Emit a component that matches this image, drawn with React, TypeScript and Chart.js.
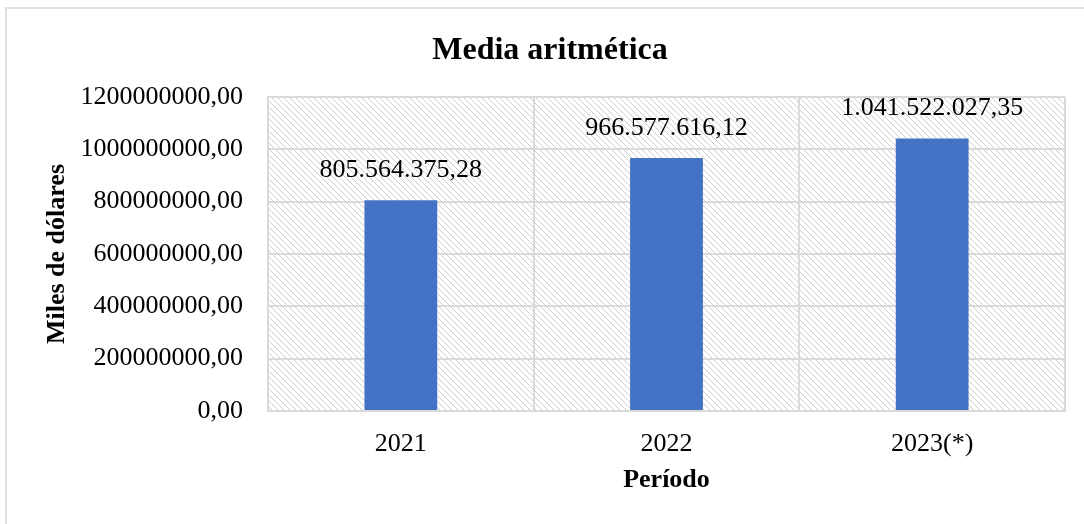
import React, { useEffect, useRef } from "react";
import { Chart, registerables } from "chart.js";

Chart.register(...registerables);

const categories = ["2021", "2022", "2023(*)"];
const values = [805564375.28, 966577616.12, 1041522027.35];
const yTicks = [0, 200000000, 400000000, 600000000, 800000000, 1000000000, 1200000000];

const FONT = "'Liberation Serif', 'Times New Roman', serif";

function fmtEs(v: number): string {
  const [i, d] = v.toFixed(2).split(".");
  return i.replace(/\B(?=(\d{3})+(?!\d))/g, ".") + "," + d;
}

function makePattern(ctx: CanvasRenderingContext2D) {
  const n = 6;
  const c = document.createElement("canvas");
  c.width = n;
  c.height = n;
  const g = c.getContext("2d")!;
  g.fillStyle = "#ffffff";
  g.fillRect(0, 0, n, n);
  g.fillStyle = "#cdcdcd";
  for (let y = 0; y < n; y++) {
    for (let x = 0; x < n; x++) {
      const k = (((x - y) % n) + n) % n;
      if (k <= 1 && (x + y) % 2 === 0) g.fillRect(x, y, 1, 1);
    }
  }
  return ctx.createPattern(c, "repeat");
}

export default function App() {
  const ref = useRef<HTMLCanvasElement>(null);
  useEffect(() => {
    const canvas = ref.current!;
    const bgPlugin = {
      id: "bgPattern",
      beforeDraw(chart: any) {
        const { ctx, chartArea } = chart;
        const p = makePattern(ctx);
        ctx.save();
        ctx.fillStyle = p || "#eee";
        ctx.fillRect(chartArea.left, chartArea.top, chartArea.right - chartArea.left, chartArea.bottom - chartArea.top);
        ctx.restore();
      },
    };
    const labelPlugin = {
      id: "valueLabels",
      afterDatasetsDraw(chart: any) {
        const { ctx } = chart;
        const meta = chart.getDatasetMeta(0);
        ctx.save();
        ctx.font = `26px ${FONT}`;
        ctx.fillStyle = "#000";
        ctx.textAlign = "center";
        ctx.textBaseline = "alphabetic";
        meta.data.forEach((bar: any, i: number) => {
          ctx.fillText(fmtEs(values[i]), bar.x, bar.y - 23);
        });
        ctx.restore();
      },
    };
    const chart = new Chart(canvas, {
      type: "bar",
      data: {
        labels: categories,
        datasets: [
          {
            data: values,
            backgroundColor: "#4472C4",
            borderWidth: 0,
            categoryPercentage: 1,
            barPercentage: 0.274,
          },
        ],
      },
      options: {
        animation: false,
        responsive: false,
        devicePixelRatio: 1,
        layout: { padding: { left: 35, right: 35, top: 0, bottom: 0 } },
        plugins: {
          legend: { display: false },
          tooltip: { enabled: false },
          title: {
            display: true,
            text: "Media aritmética",
            color: "#000",
            font: { family: FONT, size: 32, weight: "bold" },
            padding: { top: 32, bottom: 26.6 },
          },
        },
        scales: {
          x: {
            grid: { color: "#d9d9d9", lineWidth: 2, drawTicks: false, offset: true },
            border: { display: true, color: "#d9d9d9", width: 2 },
            ticks: { color: "#000", font: { family: FONT, size: 26 }, padding: 18 },
            title: {
              display: true,
              text: "Período",
              color: "#000",
              font: { family: FONT, size: 26, weight: "bold" },
              padding: { top: 0, bottom: 28.4 },
            },
            afterFit(scale: any) {
              scale.height = 113;
            },
          },
          y: {
            min: 0,
            max: 1200000000,
            afterBuildTicks(scale: any) {
              scale.ticks = yTicks.map((v) => ({ value: v }));
            },
            grid: { color: "#d9d9d9", lineWidth: 2, drawTicks: false },
            border: { display: true, color: "#d9d9d9", width: 2 },
            ticks: {
              color: "#000",
              font: { family: FONT, size: 26 },
              padding: 25,
              callback: (v: any) => `${v},00`,
            },
            title: {
              display: true,
              text: "Miles de dólares",
              color: "#000",
              font: { family: FONT, size: 26, weight: "bold" },
              padding: { top: 7, bottom: 0 },
            },
            afterFit(scale: any) {
              scale.width = 233;
            },
          },
        },
      },
      plugins: [bgPlugin, labelPlugin],
    } as any);
    return () => chart.destroy();
  }, []);

  return (
    <div
      style={{
        position: "fixed",
        left: 0,
        top: 0,
        width: 1084,
        height: 524,
        overflow: "hidden",
        background: "#fff",
      }}
    >
      <canvas ref={ref} width={1100} height={524} style={{ position: "absolute", left: 0, top: 0 }} />
      <div
        style={{
          position: "absolute",
          left: 5,
          top: 7,
          width: 1200,
          height: 700,
          border: "2px solid #e0e0e0",
          pointerEvents: "none",
        }}
      />
    </div>
  );
}
